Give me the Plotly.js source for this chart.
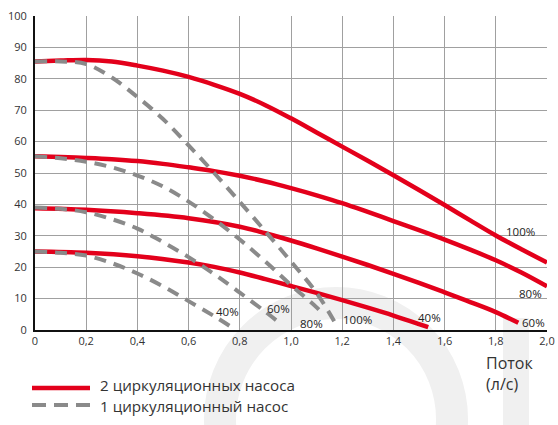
<!DOCTYPE html>
<html>
<head>
<meta charset="utf-8">
<script src="https://cdn.plot.ly/plotly-3.0.1.min.js"></script>
<style>html,body{margin:0;padding:0;background:#fff;}#chart{width:558px;height:425px;}</style>
</head>
<body>
<div id="chart"></div>
<script>
// ---- data ----
const xTickVals = [0,0.2,0.4,0.6,0.8,1.0,1.2,1.4,1.6,1.8,2.0];
const xTickText = ["0","0,2","0,4","0,6","0,8","1,0","1,2","1,4","1,6","1,8","2,0"];
const yTickVals = [0,10,20,30,40,50,60,70,80,90,100];

// two pumps (red)
const two100x = [0,0.1,0.2,0.3,0.4,0.5,0.6,0.7,0.8,0.9,1.0,1.1,1.2,1.3,1.4,1.5,1.6,1.7,1.8,1.9,2.0];
const two100y = [85.5,85.8,86,85.5,84.2,82.6,80.6,78.1,75.2,71.6,67.4,62.9,58.4,53.9,49.3,44.6,39.8,34.9,30.1,25.7,21.5];
const two80x  = [0,0.1,0.2,0.3,0.4,0.5,0.6,0.7,0.8,0.9,1.0,1.1,1.2,1.3,1.4,1.5,1.6,1.7,1.8,1.9,2.0];
const two80y  = [55.3,55.1,54.8,54.4,53.8,52.9,51.8,50.6,49.1,47.3,45.2,42.9,40.4,37.6,34.7,31.8,28.8,25.6,22.2,18.3,13.9];
const two60x  = [0,0.2,0.4,0.6,0.8,0.9,1.0,1.1,1.2,1.3,1.4,1.5,1.6,1.7,1.8,1.888];
const two60y  = [38.8,38.3,37.2,35.6,32.9,30.8,28.5,26.0,23.4,20.7,17.9,15.0,12.0,8.9,5.7,2.3];
const two40x  = [0,0.2,0.4,0.6,0.7,0.8,0.9,1.0,1.1,1.2,1.3,1.4,1.5,1.536];
const two40y  = [25,24.6,23.5,21.5,20.1,18.3,16.2,14.0,11.8,9.5,7.1,4.6,1.9,0.9];

// one pump (grey dashed)
const one100x = [0,0.1,0.2,0.3,0.4,0.5,0.6,0.7,0.8,0.9,1.0,1.1,1.18];
const one100y = [85.5,85.5,84.7,80.4,74.2,67.2,58.8,50.0,40.8,31.4,21.8,11.8,1.2];
const one80x  = [0,0.1,0.2,0.3,0.4,0.5,0.6,0.7,0.8,0.9,1.0,1.1,1.13];
const one80y  = [55.3,54.7,53.6,51.8,49.2,45.7,40.9,35.2,28.8,21.8,14.3,7.2,4.6];
const one60x  = [0,0.1,0.2,0.3,0.4,0.5,0.6,0.7,0.8,0.9,0.955];
const one60y  = [39,38.6,37.5,35.3,32.3,28.0,23.2,17.8,11.9,5.8,2.3];
const one40x  = [0,0.1,0.2,0.3,0.4,0.5,0.6,0.7,0.78];
const one40y  = [25,24.6,23.7,21.3,18.0,13.9,9.2,4.4,0.3];

const curveLabels = ["100%","80%","60%","40%"];
const legendNames = ["2 циркуляционных насоса","1 циркуляционный насос"];
const axisTitle = "Поток<br>(л/с)";

// ---- styles ----
const RED = "#e3001b", GREY = "#8a8a8a";
function redTrace(x,y){return {x:x,y:y,type:"scatter",mode:"lines",line:{color:RED,width:4.5,shape:"spline",smoothing:1},hoverinfo:"skip",showlegend:false};}
function greyTrace(x,y){return {x:x,y:y,type:"scatter",mode:"lines",line:{color:GREY,width:4,dash:"12px,8px",shape:"spline",smoothing:1},hoverinfo:"skip",showlegend:false};}

const traces = [
  redTrace(two100x,two100y), redTrace(two80x,two80y), redTrace(two60x,two60y), redTrace(two40x,two40y),
  greyTrace(one100x,one100y), greyTrace(one80x,one80y), greyTrace(one60x,one60y), greyTrace(one40x,one40y)
];

const lblFont = {family:"Open Sans, sans-serif", size:11.5, color:"#222"};
function lbl(text,x,y){return {text:text,x:x,y:y,xref:"x",yref:"y",showarrow:false,font:lblFont,xanchor:"center",yanchor:"middle"};}

// paper helpers for pixel-located decorations
const L=35,T=16,W=512,H=314;
const px=(p)=>(p-L)/W, py=(p)=>(T+H-p)/H;

const annotations = [
  lbl(curveLabels[0],1.898,31.3), lbl(curveLabels[1],1.935,11.5), lbl(curveLabels[2],1.947,2.4), lbl(curveLabels[3],1.54,3.9),
  lbl(curveLabels[3],0.75,6.0), lbl(curveLabels[2],0.953,7.0), lbl(curveLabels[1],1.08,2.0), lbl(curveLabels[0],1.26,3.5),
  {text:axisTitle,xref:"paper",yref:"paper",x:px(484),y:py(350),xanchor:"left",yanchor:"top",align:"left",showarrow:false,
   font:{family:"Open Sans, sans-serif",size:16,color:"#333"}},
  {text:legendNames[0],xref:"paper",yref:"paper",x:px(99),y:py(385),xanchor:"left",yanchor:"middle",showarrow:false,borderpad:0,
   font:{family:"Open Sans, sans-serif",size:15.2,color:"#333"}},
  {text:legendNames[1],xref:"paper",yref:"paper",x:px(99),y:py(406),xanchor:"left",yanchor:"middle",showarrow:false,borderpad:0,
   font:{family:"Open Sans, sans-serif",size:15.2,color:"#333"}}
];

const shapes = [
  // watermark ring and L
  {type:"circle",xref:"paper",yref:"paper",x0:px(220),x1:px(452),y0:py(303),y1:py(535),line:{color:"#f0f0f0",width:32},fillcolor:"rgba(0,0,0,0)",layer:"below"},
  {type:"rect",xref:"paper",yref:"paper",x0:px(503),x1:px(529),y0:py(318),y1:py(430),line:{width:0},fillcolor:"#f0f0f0",layer:"below"},
  // legend samples
  {type:"line",xref:"paper",yref:"paper",x0:px(32),x1:px(90),y0:py(388),y1:py(388),line:{color:RED,width:4.5}},
  {type:"line",xref:"paper",yref:"paper",x0:px(32),x1:px(90),y0:py(405),y1:py(405),line:{color:GREY,width:4,dash:"14px,8px"}}
];

const layout = {
  width:558,height:425,
  margin:{l:L,r:558-L-W,t:T,b:425-T-H,pad:0},
  paper_bgcolor:"#fff",plot_bgcolor:"rgba(0,0,0,0)",
  showlegend:false,
  font:{family:"Open Sans, sans-serif",size:11,color:"#333"},
  xaxis:{range:[0,2],tickvals:xTickVals,ticktext:xTickText,showgrid:true,gridcolor:"#a0a0a0",gridwidth:1,
    zeroline:false,showline:true,linecolor:"#111",linewidth:2,ticks:"",tickfont:{size:11,color:"#333"},fixedrange:true},
  yaxis:{range:[0,100],tickvals:yTickVals,showgrid:true,gridcolor:"#a0a0a0",gridwidth:1,
    zeroline:false,showline:true,linecolor:"#111",linewidth:2,ticks:"",tickfont:{size:11,color:"#333"},ticklabelstandoff:4,fixedrange:true},
  annotations:annotations,
  shapes:shapes
};

Plotly.newPlot("chart",traces,layout,{displayModeBar:false,staticPlot:true});
</script>
</body>
</html>
